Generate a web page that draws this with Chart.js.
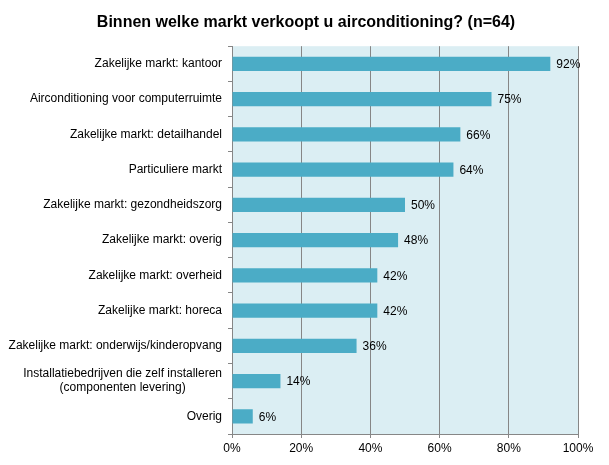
<!DOCTYPE html>
<html>
<head>
<meta charset="utf-8">
<script src="https://cdn.jsdelivr.net/npm/chart.js@4/dist/chart.umd.min.js"></script>
<style>
html,body{margin:0;padding:0;background:#fff;}
#wrap{width:609px;height:465px;position:relative;}
</style>
</head>
<body>
<div id="wrap"><canvas id="c" width="609" height="465"></canvas></div>
<script>
const chartTitle = 'Binnen welke markt verkoopt u airconditioning? (n=64)';
const categories = [
  ['Zakelijke markt: kantoor'],
  ['Airconditioning voor computerruimte'],
  ['Zakelijke markt: detailhandel'],
  ['Particuliere markt'],
  ['Zakelijke markt: gezondheidszorg'],
  ['Zakelijke markt: overig'],
  ['Zakelijke markt: overheid'],
  ['Zakelijke markt: horeca'],
  ['Zakelijke markt: onderwijs/kinderopvang'],
  ['Installatiebedrijven die zelf installeren', '(componenten levering)'],
  ['Overig']
];
const values = [92, 75, 66, 64, 50, 48, 42, 42, 36, 14, 6];
const xTicks = [0, 20, 40, 60, 80, 100];

const FONT = '"Liberation Sans", Arial, sans-serif';
const LEFT_PAD = 34, RIGHT_PAD = 31, BOTTOM_H = 31;
const LEFT_W = 232 - LEFT_PAD;

const bgPlugin = {
  id: 'bg',
  beforeDraw(chart) {
    const a = chart.chartArea, ctx = chart.ctx;
    ctx.save();
    ctx.fillStyle = '#DBEEF3';
    ctx.fillRect(a.left, a.top, a.right - a.left, a.bottom - a.top);
    ctx.restore();
  }
};

const labelPlugin = {
  id: 'labels',
  afterDraw(chart) {
    const ctx = chart.ctx, y = chart.scales.y;
    ctx.save();
    ctx.font = '12px ' + FONT;
    ctx.fillStyle = '#000';
    ctx.textBaseline = 'middle';
    ctx.textAlign = 'center';
    const lh = 14;
    categories.forEach((lines, i) => {
      const cy = y.getPixelForValue(i);
      const maxW = Math.max(...lines.map(l => ctx.measureText(l).width));
      const cx = 222 - maxW / 2;
      lines.forEach((l, k) => {
        ctx.fillText(l, cx, cy + (k - (lines.length - 1) / 2) * lh);
      });
    });
    // data labels
    ctx.font = '12px ' + FONT;
    ctx.textAlign = 'left';
    const meta = chart.getDatasetMeta(0);
    meta.data.forEach((bar, i) => {
      ctx.fillText(values[i] + '%', bar.x + 6, bar.y + 1);
    });
    ctx.restore();
  }
};

new Chart(document.getElementById('c'), {
  type: 'bar',
  data: {
    labels: categories.map(l => l.join(' ')),
    datasets: [{
      data: values,
      backgroundColor: '#4BACC6',
      borderWidth: 0,
      categoryPercentage: 1,
      barPercentage: 0.4
    }]
  },
  options: {
    indexAxis: 'y',
    responsive: false,
    animation: false,
    devicePixelRatio: 1,
    layout: { padding: { left: LEFT_PAD, right: RIGHT_PAD, top: 0, bottom: 0 } },
    plugins: {
      legend: { display: false },
      tooltip: { enabled: false },
      title: {
        display: true,
        text: chartTitle,
        color: '#000',
        font: { family: FONT, size: 16, weight: 'bold', lineHeight: 1.2 },
        padding: { top: 13, bottom: 14 }
      }
    },
    scales: {
      x: {
        min: 0, max: 100,
        afterBuildTicks(s) { s.ticks = xTicks.map(v => ({ value: v })); },
        afterFit(s) { s.height = BOTTOM_H; },
        grid: { color: '#868686', lineWidth: 1, tickLength: 4, drawTicks: true },
        border: { color: '#868686', width: 1 },
        ticks: {
          color: '#000',
          font: { family: FONT, size: 12 },
          padding: 3,
          callback: v => v + '%'
        }
      },
      y: {
        offset: true,
        afterFit(s) { s.width = LEFT_W; },
        grid: { offset: true, drawOnChartArea: false, drawTicks: true, tickLength: 4, color: '#868686' },
        border: { color: '#868686', width: 1 },
        ticks: { display: false }
      }
    }
  },
  plugins: [bgPlugin, labelPlugin]
});
</script>
</body>
</html>
